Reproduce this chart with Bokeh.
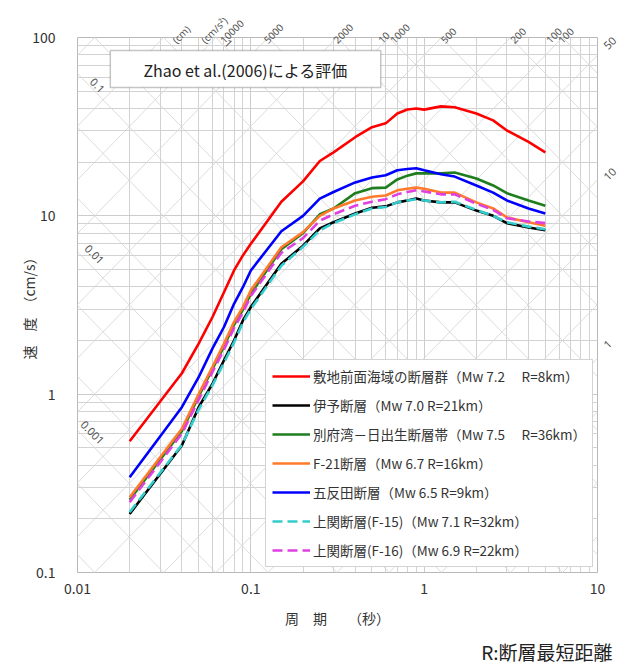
import math
from bokeh.plotting import figure
from bokeh.models import (FixedTicker, Label, BoxAnnotation, Legend, LegendItem,
                          Range1d, CustomJSTickFormatter, LogAxis, Title)
from bokeh.embed import file_html
from bokeh.resources import INLINE

# ---------------- data ----------------
periods = [0.02, 0.04, 0.05, 0.06, 0.07, 0.08, 0.09, 0.1, 0.15, 0.2, 0.25, 0.3, 0.4,
           0.5, 0.6, 0.7, 0.8, 0.9, 1.0, 1.25, 1.5, 2.0, 2.5, 3.0, 4.0, 5.0]

v_shikichi = [0.545, 1.31, 1.92, 2.7, 3.73, 4.94, 6.0, 6.97, 12.0, 15.6, 20.3, 22.7, 27.6,
              31.4, 33.0, 37.5, 39.5, 40.0, 39.4, 41.1, 40.6, 37.5, 34.3, 30.1, 26.0, 22.7]
v_iyo = [0.213, 0.515, 0.845, 1.14, 1.55, 2.0, 2.59, 3.08, 5.38, 6.8, 8.5, 9.2, 10.3,
         11.1, 11.3, 11.9, 12.2, 12.5, 12.2, 11.9, 11.9, 10.7, 10.0, 9.1, 8.6, 8.3]
v_beppu = [0.256, 0.62, 0.97, 1.38, 1.85, 2.45, 2.98, 3.65, 6.5, 8.0, 10.2, 11.0, 13.4,
           14.3, 14.4, 16.0, 16.8, 17.3, 17.3, 17.3, 17.5, 16.2, 14.8, 13.4, 12.2, 11.4]
v_f21 = [0.264, 0.64, 1.0, 1.42, 1.92, 2.54, 3.08, 3.82, 6.67, 8.1, 10.0, 11.0, 12.2,
         12.8, 13.0, 13.9, 14.2, 14.4, 14.2, 13.5, 13.5, 11.9, 11.0, 9.8, 9.2, 8.8]
v_gotanda = [0.342, 0.845, 1.245, 1.8, 2.38, 3.21, 3.98, 4.94, 8.2, 10.0, 12.5, 13.6, 15.4,
             16.4, 16.9, 18.0, 18.3, 18.5, 18.0, 17.1, 16.6, 14.8, 13.5, 12.2, 11.0, 10.3]
v_f15 = [0.218, 0.52, 0.82, 1.12, 1.5, 1.95, 2.52, 3.0, 5.25, 6.7, 8.3, 9.1, 10.2,
         11.0, 11.2, 11.9, 12.2, 12.4, 12.2, 11.9, 12.0, 10.8, 10.0, 9.2, 8.7, 8.4]
v_f16 = [0.248, 0.60, 0.93, 1.33, 1.78, 2.35, 2.88, 3.55, 6.2, 7.5, 9.4, 10.2, 11.4,
         12.0, 12.4, 13.2, 13.6, 13.9, 13.7, 13.2, 13.2, 11.7, 10.8, 9.7, 9.3, 9.1]

series_labels = [
    "敷地前面海域の断層群（Mw 7.2　 R=8km）",
    "伊予断層（Mw 7.0 R=21km）",
    "別府湾－日出生断層帯（Mw 7.5　 R=36km）",
    "F-21断層（Mw 6.7 R=16km）",
    "五反田断層（Mw 6.5 R=9km）",
    "上関断層(F-15)（Mw 7.1 R=32km）",
    "上関断層(F-16)（Mw 6.9 R=22km）",
]
series_values = [v_shikichi, v_iyo, v_beppu, v_f21, v_gotanda, v_f15, v_f16]
series_colors = ["#ff0000", "#000000", "#1e7d1e", "#ff7a2a", "#0000ff", "#33cccc", "#e040e0"]
series_dash = ["solid", "solid", "solid", "solid", "solid", "10 5", "10 5"]

x_ticks = [0.01, 0.1, 1, 10]
y_ticks = [0.1, 1, 10, 100]

# tripartite diagonal values
disp_values = [0.0002, 0.0005, 0.001, 0.002, 0.005, 0.01, 0.02, 0.05, 0.1, 0.2, 0.5,
               1, 2, 5, 10, 20, 50, 100]            # cm
acc_values = [0.1, 0.2, 0.5, 1, 2, 5, 10, 20, 50, 100, 200, 500, 1000, 2000, 5000,
              10000, 20000, 50000]                  # cm/s^2
title_text = "Zhao et al.(2006)による評価"
x_title = "周　期　　（秒）"
y_title = "速　度　（cm/s）"
note_text = "R:断層最短距離"

FONT = "Noto Sans CJK JP"
LATIN = "Noto Sans"

# ---------------- figure ----------------
L, R, T, B = 77, 600, 37, 572
W, H = 623, 671

def tx(px):
    return 10 ** (-2 + 3 * (px - L) / (R - L))

def vy(py):
    return 10 ** (-1 + 3 * (B - py) / (B - T))

p = figure(width=W, height=H, x_axis_type="log", y_axis_type="log",
           x_range=Range1d(0.01, 10), y_range=Range1d(0.1, 100),
           output_backend="svg", toolbar_location=None,
           min_border_left=L, min_border_right=W - R, min_border_top=T,
           min_border_bottom=H - B)
p.background_fill_color = "white"
p.border_fill_color = "white"
p.outline_line_color = "#b8b8b8"

def minors(lo, hi):
    out = []
    e = lo
    while e < hi:
        for k in range(2, 10):
            out.append(k * 10 ** e)
        e += 1
    return out

xt = FixedTicker(ticks=x_ticks, minor_ticks=minors(-2, 1))
yt = FixedTicker(ticks=y_ticks, minor_ticks=minors(-1, 2))
fmt = CustomJSTickFormatter(code="return tick.toString()")
for ax, tk in ((p.xaxis, xt), (p.yaxis, yt)):
    ax.ticker = tk
    ax.formatter = fmt
    ax.axis_line_color = None
    ax.major_tick_line_color = None
    ax.minor_tick_line_color = None
    ax.major_tick_out = 0
    ax.major_tick_in = 0
    ax.minor_tick_out = 0
    ax.minor_tick_in = 0
    ax.major_label_text_font = FONT
    ax.major_label_text_font_size = "14px"
    ax.major_label_text_color = "#333333"
    ax.axis_label_text_font = FONT
    ax.axis_label_text_font_size = "14px"
    ax.axis_label_text_font_style = "normal"
    ax.axis_label_text_color = "#333333"
p.xaxis.major_label_standoff = 10
p.yaxis.major_label_standoff = 22
p.xaxis.axis_label = x_title
p.yaxis.axis_label = y_title
p.xaxis.axis_label_standoff = 11
p.yaxis.axis_label_standoff = -10

p.xgrid.ticker = xt
p.ygrid.ticker = yt
for g in (p.xgrid, p.ygrid):
    g.grid_line_color = "#cccccc"
    g.minor_grid_line_color = "#d2d2d2"
    g.grid_line_width = 1
    g.minor_grid_line_width = 1

# diagonal lines
xs, ys = [], []
for d in disp_values:
    xs.append([0.01, 10])
    ys.append([2 * math.pi * d / 0.01, 2 * math.pi * d / 10])
for a in acc_values:
    xs.append([0.01, 10])
    ys.append([a * 0.01 / (2 * math.pi), a * 10 / (2 * math.pi)])
p.multi_line(xs, ys, line_color="#d8d8d8", line_width=0.9)

# curves
items = []
for lab, vals, col, dash in zip(series_labels, series_values, series_colors, series_dash):
    r = p.line(periods, vals, line_color=col, line_width=2.6, line_dash=dash)
    items.append(LegendItem(label=lab, renderers=[r]))

# diagonal labels inside the frame
small = dict(text_font=LATIN, text_font_size="11px", text_color="#555555",
             text_align="center", text_baseline="middle")
d_labels = [("0.1", 97, 85), ("0.01", 94, 254), ("0.001", 92, 432), ("1", 229, 43)]
for t, px, py in d_labels:
    p.add_layout(Label(x=tx(px), y=vy(py), text=t, angle=-math.pi / 4, **small))

# diagonal labels outside the frame: top axis and right axis
top_text = ["(cm)", "(cm/s²)", "10000", "5000", "2000", "10", "1000", "500", "200",
            "100", "100"]
top_px = [174, 203, 222, 266, 336, 381, 393, 444, 514, 550, 562]
right_text = ["50", "10", "1"]
right_py = [47, 178, 346]

def axis_fmt(vals, texts):
    return CustomJSTickFormatter(args=dict(vals=vals, texts=texts), code="""
        let best = 0, bd = Infinity;
        for (let i = 0; i < vals.length; i++) {
            const d = Math.abs(Math.log(vals[i]) - Math.log(tick));
            if (d < bd) { bd = d; best = i; }
        }
        return texts[best];
    """)

def styled_axis(ax, size):
    ax.axis_line_color = None
    ax.major_tick_line_color = None
    ax.minor_tick_line_color = None
    ax.major_tick_out = 0
    ax.major_tick_in = 0
    ax.minor_tick_out = 0
    ax.minor_tick_in = 0
    ax.major_label_text_font = LATIN
    ax.major_label_text_font_size = size
    ax.major_label_text_color = "#555555"
    ax.major_label_orientation = math.pi / 4
    ax.major_label_standoff = 0

top_vals = [tx(v) for v in top_px]
top_axis = LogAxis(ticker=FixedTicker(ticks=top_vals, minor_ticks=[]),
                   formatter=axis_fmt(top_vals, top_text))
styled_axis(top_axis, "10px")
top_axis.major_label_standoff = -4
p.add_layout(top_axis, "above")

right_vals = [vy(v) for v in right_py]
right_axis = LogAxis(ticker=FixedTicker(ticks=sorted(right_vals), minor_ticks=[]),
                     formatter=axis_fmt(right_vals, right_text))
styled_axis(right_axis, "11px")
right_axis.major_label_standoff = 8
p.add_layout(right_axis, "right")

# title box
p.add_layout(BoxAnnotation(left=tx(110), right=tx(382), top=vy(50), bottom=vy(87),
                           fill_color="white", fill_alpha=1.0,
                           line_color="#404040", line_width=1.5, level="overlay"))
p.add_layout(Label(x=tx(246), y=vy(69), text=title_text, text_font=FONT,
                   text_font_size="16px", text_color="#222222",
                   text_align="center", text_baseline="middle", level="overlay"))

# note below
note = Title(text=note_text, align="right", text_font=FONT, text_font_size="19px",
             text_font_style="normal", text_color="#222222", standoff=11, offset=-15)
p.add_layout(note, "below")

legend = Legend(items=items, location=(265 - L, B - 567), margin=0,
                padding=6, spacing=9, glyph_width=38, glyph_height=20,
                label_height=20, label_standoff=3,
                label_text_font=FONT, label_text_font_size="13.5px",
                label_text_color="#333333",
                border_line_color="#a8a8a8", border_line_width=1,
                background_fill_color="white", background_fill_alpha=1.0)
p.add_layout(legend)

open("out.html", "w").write(file_html(p, INLINE))
